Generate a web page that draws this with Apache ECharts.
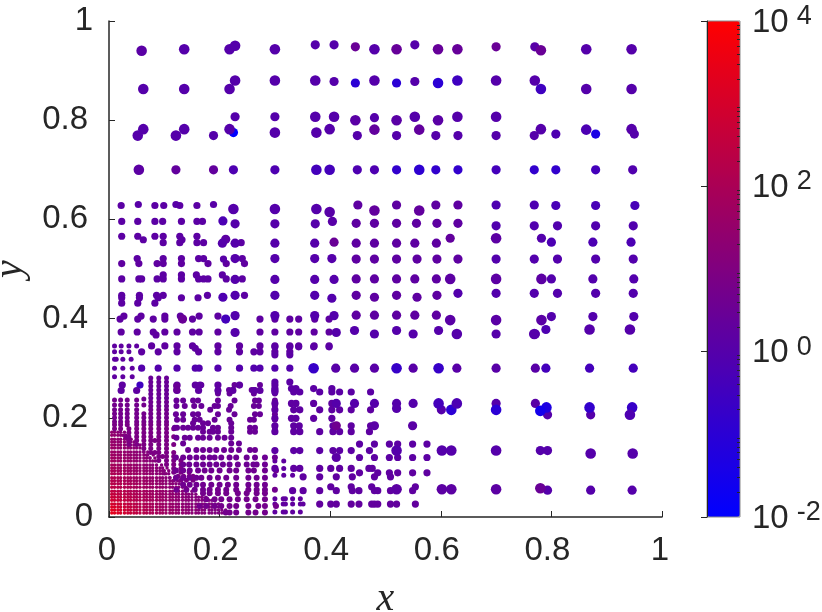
<!DOCTYPE html>
<html>
<head>
<meta charset="utf-8">
<script src="https://cdn.jsdelivr.net/npm/echarts@6/dist/echarts.min.js"></script>
<style>
  html, body { margin: 0; padding: 0; background: #fff; }
  #chart { width: 822px; height: 612px; }
</style>
</head>
<body>
<div id="chart"></div>
<script>
const colorbarMajor = [-2, 0, 2, 4];
const colorbarDecades = [0.01, 0.1, 1, 10, 100, 1000];
const colorbarSteps = [2, 3, 4, 5, 6, 7, 8, 9];

// rows below are [y, value, [x, x, ...]]
const outerLarge = [
  [0.943, 1, [0.136, 0.218, 0.3, 0.48, 0.863, 0.945]],
  [0.943, 2.5, [0.52, 0.595, 0.63]],
  [0.94, 1.3, [0.059]],
  [0.941, 3, [0.781]],
  [0.95, 1, [0.228]],
  [0.863, 1, [0.062, 0.136, 0.218, 0.863, 0.945]],
  [0.863, 0.3, [0.781]],
  [0.88, 1, [0.228, 0.3, 0.373, 0.48, 0.7, 0.77]],
  [0.88, 0.3, [0.63]],
  [0.875, 0.1, [0.595]],
  [0.782, 1, [0.062, 0.136, 0.218, 0.399, 0.781, 0.945]],
  [0.781, 0.6, [0.863]],
  [0.781, 2, [0.561, 0.48]],
  [0.769, 1, [0.052, 0.121]],
  [0.775, 1, [0.3, 0.375]],
  [0.807, 1, [0.373, 0.407, 0.553, 0.63, 0.7]],
  [0.8, 1.3, [0.4455, 0.52, 0.595]],
  [0.7, 0.4, [0.375, 0.399]],
  [0.7, 0.12, [0.561]],
  [0.7, 1.5, [0.054]],
  [0.618, 2, [0.48, 0.561]],
  [0.562, 1.5, [0.7]],
  [0.48, 1.5, [0.617, 0.7, 0.782]],
  [0.397, 1.3, [0.617, 0.7, 0.782]],
  [0.621, 1, [0.225, 0.3, 0.375]],
  [0.615, 1.2, [0.399]],
  [0.229, 0.4, [0.596]],
  [0.216, 0.1, [0.619, 0.7]],
  [0.229, 0.6, [0.629]],
  [0.221, 0.05, [0.791]],
  [0.214, 0.03, [0.78]],
  [0.221, 0.15, [0.869]],
  [0.221, 0.2, [0.946]],
  [0.206, 0.7, [0.942]],
  [0.134, 1, [0.52, 0.602, 0.619, 0.7]],
  [0.128, 1, [0.871, 0.947]],
  [0.056, 1.5, [0.52, 0.602, 0.619, 0.7]],
  [0.058, 3, [0.78]],
  [0.3, 0.2, [0.37, 0.52, 0.596]],
  [0.369, 1, [0.629, 0.769]],
  [0.378, 1, [0.869, 0.942]]
];
const outerMedium = [
  [0.952, 1, [0.373, 0.407, 0.553]],
  [0.948, 3, [0.4455, 0.7]],
  [0.948, 1.2, [0.77]],
  [0.878, 1, [0.407, 0.553]],
  [0.875, 0.1, [0.4455, 0.52]],
  [0.769, 1, [0.189, 0.449, 0.52, 0.591, 0.631, 0.7, 0.769]],
  [0.772, 1, [0.95]],
  [0.772, 0.7, [0.808]],
  [0.772, 0.04, [0.88]],
  [0.775, 0.01, [0.225]],
  [0.807, 1, [0.228, 0.3]],
  [0.805, 1, [0.48]],
  [0.7, 2, [0.121, 0.189]],
  [0.7, 0.7, [0.225, 0.3, 0.48, 0.449]],
  [0.7, 0.15, [0.52, 0.591, 0.631, 0.769, 0.808]],
  [0.7, 0.4, [0.7, 0.88]],
  [0.7, 0.8, [0.947]],
  [0.629, 1.6, [0.45, 0.52, 0.591, 0.631]],
  [0.629, 0.7, [0.7, 0.769]],
  [0.628, 0.5, [0.808, 0.88, 0.951]],
  [0.592, 1.6, [0.447, 0.48, 0.52, 0.556, 0.593, 0.631]],
  [0.587, 0.8, [0.7, 0.769, 0.811, 0.88, 0.948]],
  [0.591, 1, [0.228, 0.3, 0.373]],
  [0.596, 1.2, [0.404]],
  [0.597, 0.6, [0.206]],
  [0.552, 1.6, [0.447, 0.48, 0.52, 0.553, 0.592]],
  [0.562, 2, [0.617]],
  [0.562, 0.9, [0.782]],
  [0.554, 0.6, [0.8, 0.875, 0.944]],
  [0.56, 1.5, [0.211]],
  [0.552, 1, [0.205, 0.228, 0.3, 0.372]],
  [0.554, 3, [0.407]],
  [0.52, 1.6, [0.447, 0.48, 0.52, 0.557, 0.593, 0.631]],
  [0.52, 0.9, [0.7, 0.769, 0.811, 0.88, 0.948]],
  [0.521, 1, [0.228, 0.3, 0.372, 0.403]],
  [0.48, 1.6, [0.447, 0.48, 0.52, 0.553, 0.592]],
  [0.48, 0.9, [0.8, 0.875, 0.949]],
  [0.479, 1, [0.228, 0.3, 0.372, 0.407]],
  [0.447, 1.6, [0.447, 0.52, 0.593]],
  [0.443, 1.6, [0.48, 0.557]],
  [0.451, 0.9, [0.631, 0.7, 0.769, 0.811, 0.88, 0.948]],
  [0.443, 0.7, [0.206]],
  [0.447, 0.9, [0.228, 0.3, 0.372]],
  [0.441, 0.9, [0.403]],
  [0.407, 1.6, [0.447, 0.48, 0.52, 0.553, 0.592]],
  [0.404, 0.9, [0.8, 0.875, 0.949]],
  [0.406, 0.9, [0.228, 0.3, 0.372, 0.407]],
  [0.399, 0.4, [0.211]],
  [0.399, 3, [0.133]],
  [0.376, 1, [0.444, 0.52, 0.596]],
  [0.369, 1, [0.48, 0.55, 0.7, 0.771]],
  [0.378, 0.7, [0.79]],
  [0.372, 1, [0.411, 0.228]],
  [0.3, 1.2, [0.41, 0.444, 0.48, 0.55, 0.629, 0.7, 0.771]],
  [0.3, 0.4, [0.79, 0.869, 0.948]],
  [0.229, 1, [0.411, 0.444, 0.48, 0.52, 0.55, 0.7]],
  [0.219, 1, [0.52]],
  [0.216, 1, [0.601]],
  [0.229, 1.3, [0.771]],
  [0.206, 1, [0.793, 0.871]],
  [0.184, 4, [0.411]],
  [0.184, 1.3, [0.48, 0.549]],
  [0.134, 1, [0.78, 0.793]],
  [0.12, 1.3, [0.411]],
  [0.054, 1, [0.793, 0.946, 0.871]]
];
const midSmall = [
  [0.628, 1.4, [0.022, 0.083, 0.099, 0.128, 0.159]],
  [0.63, 1.2, [0.053, 0.121, 0.189]],
  [0.596, 1.4, [0.023, 0.052, 0.083, 0.097, 0.131, 0.159, 0.169]],
  [0.566, 1.5, [0.023, 0.052, 0.083, 0.098, 0.128, 0.159]],
  [0.559, 1.5, [0.062, 0.132]],
  [0.553, 1.5, [0.098, 0.128, 0.159, 0.171, 0.239]],
  [0.521, 1.5, [0.051, 0.098, 0.131, 0.162, 0.171, 0.241]],
  [0.511, 1.7, [0.023, 0.054, 0.087, 0.098, 0.131, 0.179, 0.212, 0.245]],
  [0.52, 1.2, [0.207]],
  [0.488, 1.5, [0.098, 0.131, 0.158, 0.205]],
  [0.48, 1.5, [0.023, 0.054, 0.059, 0.087, 0.098, 0.131, 0.162, 0.171, 0.179, 0.212, 0.241]],
  [0.447, 1.5, [0.023, 0.055, 0.086, 0.098, 0.178, 0.245]],
  [0.442, 1.5, [0.023, 0.055, 0.089, 0.131, 0.161]],
  [0.431, 1.5, [0.023, 0.052, 0.083]],
  [0.405, 1.6, [0.027, 0.058, 0.101, 0.129, 0.163, 0.197]],
  [0.399, 1.6, [0.02, 0.052, 0.08, 0.101, 0.151, 0.273, 0.3, 0.327, 0.343, 0.372, 0.398]],
  [0.373, 1.7, [0.022, 0.051, 0.08, 0.101, 0.123, 0.151, 0.163, 0.197, 0.273, 0.3, 0.327, 0.343, 0.371, 0.398]],
  [0.367, 1.7, [0.085]],
  [0.345, 1.7, [0.077, 0.101, 0.123, 0.151, 0.197, 0.236, 0.273, 0.3, 0.327, 0.343, 0.371, 0.398]],
  [0.333, 1.6, [0.059, 0.089, 0.123, 0.162, 0.197, 0.236, 0.262, 0.273, 0.3, 0.327]],
  [0.34, 1.6, [0.156]],
  [0.3, 0.9, [0.059, 0.089, 0.123, 0.156, 0.163, 0.197, 0.236, 0.262, 0.273, 0.3, 0.327]],
  [0.266, 1.6, [0.024, 0.123, 0.156, 0.165, 0.197, 0.236, 0.3]],
  [0.266, 0.3, [0.056]],
  [0.255, 1.6, [0.022, 0.05, 0.123, 0.162, 0.197, 0.224, 0.262, 0.273, 0.3]],
  [0.343, 1.4, [0.3, 0.327, 0.343, 0.37, 0.398]],
  [0.327, 1.4, [0.3, 0.327]],
  [0.272, 1.4, [0.3, 0.327]],
  [0.259, 1.4, [0.3, 0.33, 0.338, 0.37, 0.403]],
  [0.252, 1.4, [0.3, 0.334, 0.345, 0.381, 0.403, 0.417, 0.438, 0.473]],
  [0.229, 1.6, [0.3, 0.33, 0.338, 0.37, 0.403]],
  [0.216, 1.6, [0.3, 0.334, 0.345, 0.381, 0.403, 0.417, 0.438, 0.473]],
  [0.199, 1.6, [0.3, 0.33, 0.338, 0.37, 0.403]],
  [0.184, 1.6, [0.3, 0.334, 0.344, 0.405, 0.438, 0.473]],
  [0.172, 1.6, [0.3, 0.334, 0.345, 0.381, 0.405, 0.417, 0.438, 0.471]],
  [0.134, 1.5, [0.3, 0.334, 0.345, 0.381, 0.405, 0.417, 0.438, 0.471]],
  [0.147, 1.5, [0.453, 0.48, 0.507, 0.522, 0.549, 0.575]],
  [0.12, 1.5, [0.453, 0.48, 0.507, 0.522, 0.549, 0.575]],
  [0.098, 1.7, [0.3, 0.334, 0.345, 0.381, 0.401, 0.417, 0.438, 0.47, 0.476]],
  [0.089, 1.7, [0.453, 0.486, 0.507, 0.522, 0.549, 0.575]],
  [0.081, 1.7, [0.351, 0.381, 0.411, 0.44, 0.48, 0.509]],
  [0.061, 1.7, [0.401, 0.438, 0.475, 0.554]],
  [0.053, 1.7, [0.332, 0.351, 0.381, 0.411, 0.44, 0.452, 0.48, 0.486, 0.509, 0.549]],
  [0.026, 2, [0.381, 0.401, 0.411, 0.438, 0.452, 0.475, 0.48, 0.486, 0.509, 0.52, 0.554]],
  [0.264, 3, [0.1225]],
  [0.256, 3, [0.1225]]
];
const fineMarks = [
  [0.266, 2.5, [0.158, 0.167, 0.197, 0.227, 0.273]],
  [0.256, 2.5, [0.162, 0.197, 0.224, 0.217, 0.258, 0.264]],
  [0.249, 2.5, [0.197, 0.218, 0.262, 0.3]],
  [0.235, 2.8, [0.122, 0.134, 0.152, 0.161, 0.197, 0.227, 0.264, 0.271, 0.3]],
  [0.224, 2.8, [0.122, 0.137, 0.154, 0.167, 0.191, 0.197, 0.22, 0.262, 0.271, 0.3]],
  [0.216, 2.8, [0.183, 0.217]],
  [0.207, 2.8, [0.121, 0.134, 0.152, 0.161, 0.197, 0.227, 0.264, 0.273, 0.3]],
  [0.196, 3, [0.123, 0.134, 0.155, 0.164, 0.191, 0.218, 0.255, 0.262, 0.3]],
  [0.189, 3, [0.152, 0.17, 0.179, 0.221]],
  [0.18, 3, [0.123, 0.119, 0.134, 0.143, 0.152, 0.161, 0.17, 0.188, 0.197, 0.221, 0.255, 0.264, 0.3]],
  [0.172, 3, [0.17, 0.182, 0.188, 0.197, 0.221, 0.255, 0.264, 0.3]],
  [0.16, 3, [0.122, 0.137, 0.146, 0.161, 0.17, 0.182, 0.197, 0.209, 0.221]],
  [0.148, 3, [0.134, 0.221, 0.235]],
  [0.135, 3.5, [0.143, 0.158, 0.17, 0.182, 0.194, 0.208, 0.221, 0.235, 0.255, 0.264]],
  [0.12, 3.5, [0.121, 0.134, 0.146, 0.158, 0.17, 0.182, 0.191, 0.203, 0.218, 0.23, 0.249, 0.264, 0.282, 0.3]],
  [0.106, 3.5, [0.134, 0.145, 0.158, 0.17, 0.182, 0.194, 0.206, 0.218, 0.233, 0.249, 0.261, 0.267, 0.282]],
  [0.094, 4, [0.121, 0.134, 0.146, 0.161, 0.173, 0.185, 0.2, 0.218, 0.23, 0.252, 0.262, 0.282, 0.302]],
  [0.079, 4, [0.121, 0.134, 0.146, 0.158, 0.167, 0.182, 0.197, 0.212, 0.23, 0.252, 0.267, 0.282]],
  [0.065, 4, [0.134, 0.146, 0.158, 0.17, 0.185, 0.2, 0.215, 0.23, 0.252, 0.267, 0.282]],
  [0.055, 4.5, [0.122, 0.14, 0.155, 0.17, 0.182, 0.197, 0.212, 0.23, 0.252, 0.267, 0.282, 0.3]],
  [0.048, 5, [0.17, 0.182, 0.197, 0.212, 0.233, 0.249, 0.267, 0.282]],
  [0.036, 5, [0.176, 0.191, 0.203, 0.218, 0.233, 0.249, 0.265, 0.282]],
  [0.022, 5, [0.164, 0.176, 0.191, 0.203, 0.218, 0.23, 0.252, 0.27, 0.282, 0.302]],
  [0.009, 5, [0.211, 0.218, 0.23, 0.252, 0.265, 0.282]]
];
const tinyMarks = [
  [0.345, 1.7, [0.01, 0.022, 0.036, 0.05]],
  [0.333, 1.7, [0.01, 0.022, 0.036]],
  [0.318, 1.7, [0.01, 0.013, 0.025, 0.04]],
  [0.3, 1.7, [0.01, 0.025, 0.042]],
  [0.283, 1.7, [0.01, 0.025, 0.042]],
  [0.28, 3, [0.0755, 0.09, 0.104]],
  [0.272, 3, [0.0755, 0.09, 0.104]],
  [0.264, 3, [0.0755, 0.09, 0.104]],
  [0.256, 3, [0.0755, 0.09, 0.104]],
  [0.248, 3, [0.0755, 0.09, 0.104]],
  [0.24, 3, [0.0755, 0.09, 0.104]],
  [0.238, 4, [0.063]],
  [0.236, 5, [0.01, 0.021, 0.033, 0.05]],
  [0.232, 4, [0.0755, 0.09, 0.104]],
  [0.226, 5, [0.01, 0.021, 0.033, 0.05, 0.063]],
  [0.224, 4, [0.0755, 0.09, 0.104]],
  [0.216, 5, [0.01, 0.021, 0.033, 0.05, 0.0755, 0.09, 0.104]],
  [0.208, 5, [0.01, 0.021, 0.033, 0.05, 0.063, 0.0755, 0.09, 0.104]],
  [0.2, 5, [0.01, 0.021, 0.033, 0.05, 0.063, 0.0755, 0.09, 0.104]],
  [0.192, 6, [0.01, 0.021, 0.033, 0.05, 0.063, 0.0755, 0.09, 0.104]],
  [0.186, 7, [0.01, 0.021, 0.033, 0.05, 0.063, 0.0755, 0.09, 0.104]],
  [0.178, 8, [0.01, 0.021, 0.036, 0.05, 0.063, 0.0755, 0.09, 0.104, 0.117]],
  [0.17, 8, [0.036, 0.05, 0.063, 0.0755, 0.09, 0.104]],
  [0.162, 8, [0.03, 0.036, 0.05, 0.063, 0.0755, 0.09, 0.104, 0.117]],
  [0.154, 8, [0.036, 0.05, 0.063, 0.0755, 0.083, 0.09, 0.104]],
  [0.146, 8, [0.036, 0.05, 0.063, 0.0755, 0.09, 0.104, 0.117]],
  [0.138, 8, [0.063, 0.0755, 0.09, 0.104]],
  [0.13, 8, [0.0755, 0.083, 0.09, 0.104, 0.117]],
  [0.122, 8, [0.09, 0.097, 0.104, 0.117]],
  [0.114, 8, [0.09, 0.104, 0.117, 0.13]],
  [0.106, 8, [0.104, 0.117, 0.13]],
  [0.098, 8, [0.117, 0.13]],
  [0.09, 8, [0.117, 0.13, 0.145]],
  [0.082, 8, [0.125, 0.135, 0.145, 0.152]],
  [0.074, 8, [0.13, 0.14, 0.152]],
  [0.113, 1.7, [0.3, 0.316]],
  [0.098, 1.7, [0.316]],
  [0.084, 1.7, [0.3, 0.316, 0.332]],
  [0.037, 1.8, [0.3, 0.315, 0.319, 0.332, 0.346]],
  [0.026, 1.8, [0.3, 0.315, 0.319, 0.332, 0.346, 0.351]],
  [0.01, 1.8, [0.3, 0.315, 0.319, 0.332, 0.346]]
];
// marks just outside the dense block's stepped edge
const cornerEdge = [
  [0.171, 14, [0.021, 0.028]],
  [0.165, 14, [0.025, 0.03]],
  [0.157, 14, [0.033, 0.04]],
  [0.151, 14, [0.039, 0.045]],
  [0.145, 14, [0.045, 0.056]],
  [0.131, 13, [0.063, 0.07]],
  [0.125, 13, [0.07, 0.08]],
  [0.119, 13, [0.074, 0.083]],
  [0.113, 13, [0.084]],
  [0.105, 13, [0.095]],
  [0.099, 13, [0.097, 0.105]],
  [0.093, 13, [0.1, 0.108]],
  [0.087, 13, [0.1, 0.108]],
  [0.079, 12, [0.11]],
  [0.073, 12, [0.118, 0.124]],
  [0.067, 12, [0.127, 0.133]],
  [0.06, 12, [0.133, 0.139]],
  [0.052, 11, [0.15]],
  [0.04, 10, [0.168, 0.175]]
];

// dense lower-left block: each row holds its values for the first columns of cornerX
const cornerX = [0.005, 0.01, 0.016, 0.021, 0.028, 0.034, 0.039, 0.045, 0.05, 0.056, 0.063, 0.068, 0.074, 0.079, 0.086, 0.092, 0.097, 0.103, 0.11, 0.115, 0.121, 0.126, 0.133, 0.139, 0.144, 0.15, 0.157, 0.162, 0.168, 0.173, 0.181, 0.186, 0.192, 0.198, 0.204, 0.211];
const cornerRows = [
  [0.008, [2500, 2000, 1500, 1100, 800, 600, 450, 350, 280, 220, 180, 150, 120, 100, 85, 70, 60, 50, 45, 40, 35, 30, 28, 25, 22, 20, 18, 16, 15, 14, 13, 12, 11, 10, 10, 9]],
  [0.014, [2000, 1600, 1200, 900, 650, 500, 400, 300, 250, 200, 160, 130, 110, 90, 75, 65, 55, 48, 42, 38, 33, 28, 26, 24, 20, 19, 17, 15, 14, 13, 12, 11, 10, 10, 9, 9]],
  [0.02, [1400, 1100, 850, 650, 500, 400, 320, 260, 210, 170, 140, 115, 95, 80, 70, 60, 50, 45, 40, 35, 30, 27, 24, 22, 20, 18, 16, 15, 14, 13, 12, 11, 10, 9, 9]],
  [0.026, [1000, 800, 650, 500, 400, 320, 260, 220, 180, 150, 125, 105, 90, 75, 65, 55, 48, 42, 37, 33, 28, 25, 23, 20, 18, 16, 15, 14, 13, 12, 11, 10, 9, 9]],
  [0.034, [700, 600, 480, 380, 320, 260, 220, 180, 150, 130, 110, 92, 80, 68, 60, 50, 44, 38, 34, 30, 26, 23, 21, 19, 17, 15, 14, 13, 12, 11, 10, 9]],
  [0.04, [520, 440, 360, 300, 250, 210, 180, 150, 130, 110, 95, 82, 70, 60, 52, 46, 40, 35, 31, 27, 24, 21, 19, 17, 15, 14, 13, 12, 11]],
  [0.046, [400, 340, 290, 240, 200, 175, 150, 130, 110, 95, 82, 72, 62, 54, 47, 41, 36, 32, 28, 25, 22, 19, 17, 16, 14, 13, 12]],
  [0.052, [320, 280, 230, 200, 170, 145, 125, 110, 95, 82, 72, 62, 54, 47, 42, 37, 32, 28, 25, 22, 20, 18, 16, 14]],
  [0.06, [260, 220, 190, 165, 140, 120, 105, 92, 80, 70, 62, 54, 47, 42, 37, 33, 29, 25, 23, 20, 18, 16]],
  [0.067, [210, 180, 155, 135, 115, 100, 90, 78, 68, 60, 53, 47, 41, 37, 33, 29, 26, 23, 20, 18, 16]],
  [0.073, [175, 150, 130, 115, 100, 85, 75, 66, 58, 52, 46, 41, 36, 32, 29, 26, 23, 20, 18, 16]],
  [0.079, [150, 130, 110, 95, 85, 72, 64, 56, 50, 45, 40, 36, 32, 29, 26, 23, 20, 18, 16]],
  [0.087, [125, 110, 95, 82, 72, 62, 55, 48, 44, 39, 35, 31, 28, 25, 22, 20, 18, 16]],
  [0.093, [105, 92, 80, 70, 62, 54, 48, 43, 38, 34, 31, 28, 25, 22, 20, 18, 16]],
  [0.099, [90, 78, 68, 60, 54, 47, 42, 38, 34, 30, 27, 25, 22, 20, 18, 16]],
  [0.105, [78, 68, 60, 52, 46, 42, 37, 33, 30, 27, 24, 22, 20, 18, 16]],
  [0.113, [66, 58, 52, 46, 41, 37, 33, 30, 27, 24, 22, 20, 18, 16]],
  [0.119, [58, 52, 46, 41, 37, 33, 30, 27, 24, 22, 20, 18, 16]],
  [0.125, [52, 46, 41, 37, 33, 30, 27, 24, 22, 20, 18, 16]],
  [0.131, [46, 42, 37, 33, 30, 27, 24, 22, 20, 18, 16]],
  [0.139, [42, 37, 33, 30, 27, 24, 22, 20, 18, 16]],
  [0.145, [38, 34, 30, 27, 24, 22, 20]],
  [0.151, [34, 31, 27, 24, 22, 20]],
  [0.157, [31, 28, 25, 22, 20]],
  [0.165, [28, 25, 23, 20]],
  [0.171, [26, 23, 20]]
];

const INK = "#262626";
const rowsToPoints = (rows) =>
  rows.flatMap(([y, value, xs]) => xs.map((x) => [x, y, Math.log10(value)]));
const cornerPoints = cornerRows.flatMap(([y, values]) =>
  values.map((value, i) => [cornerX[i], y, Math.log10(value)])
);
const minorTicks = colorbarDecades.flatMap((decade) =>
  colorbarSteps.map((step) => Math.log10(decade * step))
);

const scatter = (data, size) => ({
  type: "scatter",
  xAxisIndex: 0,
  yAxisIndex: 0,
  data,
  symbolSize: size,
  silent: true,
  itemStyle: { opacity: 1 },
});

const chart = echarts.init(document.getElementById("chart"), null, { renderer: "canvas" });

chart.setOption({
  animation: false,
  backgroundColor: "#fff",
  textStyle: { fontFamily: "Liberation Sans" },
  grid: [
    { left: 109, top: 21, width: 553, height: 496, outerBoundsMode: "none" },
    { left: 707, top: 21, width: 33, height: 496, outerBoundsMode: "none", show: true, borderColor: "#8a8a8a", borderWidth: 1, backgroundColor: "transparent", z: 10 },
  ],
  xAxis: [
    {
      type: "value",
      gridIndex: 0,
      min: 0,
      max: 1,
      interval: 0.2,
      name: "x",
      nameLocation: "middle",
      nameGap: 62,
      nameTextStyle: { fontFamily: "Liberation Serif", fontStyle: "italic", fontSize: 40, color: INK },
      axisLine: { onZero: false, lineStyle: { color: INK, width: 1.5 } },
      axisTick: { inside: true, length: 6, lineStyle: { color: INK, width: 1 } },
      axisLabel: {
        fontSize: 33,
        color: INK,
        margin: 17,
        formatter: (v) => (Number.isInteger(v) ? `{whole|${v}}` : `{dec|${v}}`),
        rich: {
          whole: { fontSize: 33, color: INK, fontFamily: "Liberation Sans", padding: [0, 4, 0, 0] },
          dec: { fontSize: 33, color: INK, fontFamily: "Liberation Sans", padding: [0, 8, 0, 0] },
        },
      },
      splitLine: { show: false },
    },
    { type: "value", gridIndex: 1, min: 0, max: 1, show: false },
  ],
  yAxis: [
    {
      type: "value",
      gridIndex: 0,
      min: 0,
      max: 1,
      interval: 0.2,
      name: "y",
      nameLocation: "middle",
      nameGap: 79,
      nameTextStyle: { fontFamily: "Liberation Serif", fontStyle: "italic", fontSize: 40, color: INK },
      axisLine: { onZero: false, lineStyle: { color: INK, width: 1.5 } },
      axisTick: { inside: true, length: 6, lineStyle: { color: INK, width: 1 } },
      axisLabel: {
        fontSize: 33,
        color: INK,
        margin: 16,
        formatter: (v) => (Number.isInteger(v) ? String(v) : `{dec|${v}}`),
        rich: {
          dec: { fontSize: 33, color: INK, fontFamily: "Liberation Sans", padding: [0, 5, 0, 0] },
        },
      },
      splitLine: { show: false },
    },
    {
      type: "value",
      gridIndex: 1,
      position: "right",
      min: -2,
      max: 4,
      interval: 2,
      axisLine: { show: true, lineStyle: { color: INK, width: 1 } },
      axisTick: { inside: true, length: 6, lineStyle: { color: INK, width: 1 } },
      splitLine: { show: false },
      z: 11,
      axisLabel: {
        margin: 12,
        color: INK,
        formatter: (v) => (colorbarMajor.includes(v) ? `{base|10}{sup|${v}}` : ""),
        rich: {
          base: { fontSize: 33, lineHeight: 36, color: INK, fontFamily: "Liberation Sans", verticalAlign: "bottom" },
          sup: { fontSize: 27, lineHeight: 24, color: INK, fontFamily: "Liberation Sans", verticalAlign: "top", padding: [0, 0, 0, 8] },
        },
      },
    },
    {
      type: "value",
      gridIndex: 1,
      position: "right",
      min: -2,
      max: 4,
      interval: 2,
      z: 11,
      axisLine: { show: false },
      axisLabel: { show: false },
      splitLine: { show: false },
      axisTick: { show: true, inside: true, length: 3, customValues: minorTicks, lineStyle: { color: INK, width: 1 } },
    },
  ],
  visualMap: {
    type: "continuous",
    show: true,
    dimension: 2,
    seriesIndex: [0, 1, 2, 3, 4, 5],
    min: -2,
    max: 4,
    left: 707,
    top: 21,
    itemWidth: 33,
    itemHeight: 496,
    calculable: false,
    hoverLink: false,
    text: ["", ""],
    textGap: 0,
    padding: 0,
    inRange: { color: ["#0000ff", "#ff0000"] },
  },
  series: [
    scatter(cornerPoints.concat(rowsToPoints(cornerEdge)), 3.5),
    scatter(rowsToPoints(tinyMarks), 5),
    scatter(rowsToPoints(fineMarks), 6),
    scatter(rowsToPoints(midSmall), 7.2),
    scatter(rowsToPoints(outerMedium), 9.2),
    scatter(rowsToPoints(outerLarge), 10.6),
  ],
});

window.addEventListener("resize", () => chart.resize());
</script>
</body>
</html>
